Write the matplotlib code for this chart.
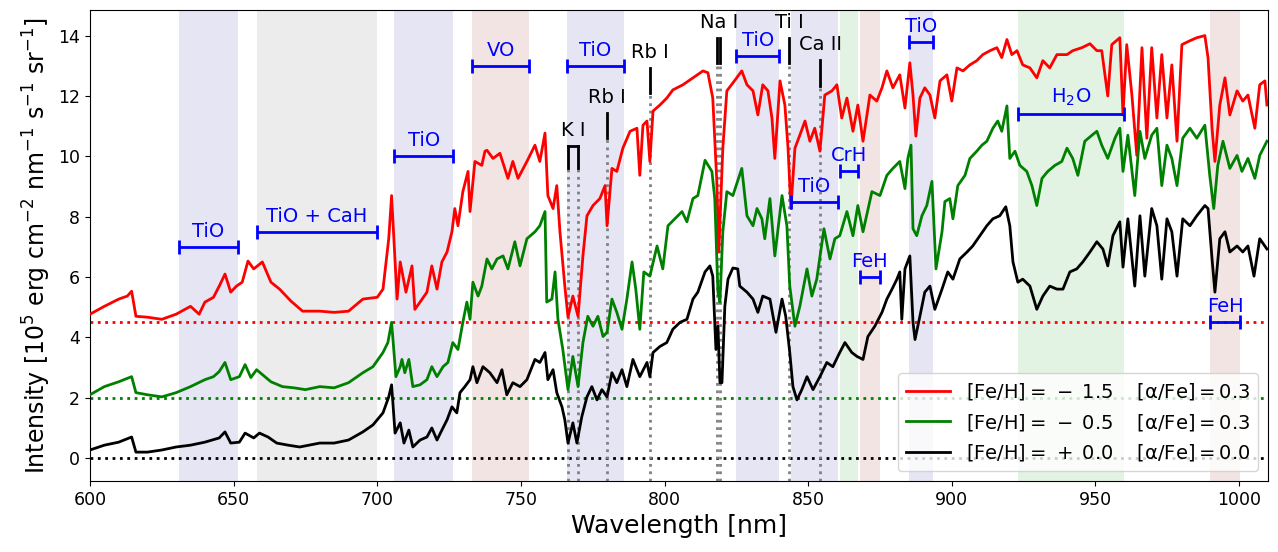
import matplotlib
matplotlib.use("Agg")
import matplotlib.pyplot as plt

# spectra (intensity in 1e5 erg cm-2 nm-1 s-1 sr-1)
wl_m15 = [600, 605, 610, 613, 614.5, 616, 620, 625, 630, 635, 638, 640, 643, 645, 647, 649, 651, 653, 655, 657,
          660, 663, 666, 670, 674, 680, 685, 690, 695, 700, 702, 704, 705, 706.9, 708, 710, 712.1, 713.1, 714.9, 717.3,
          719.0, 720.8, 722.5, 724.3, 726.0, 727.0, 728.1, 729.8, 731.6, 732.3, 734.0, 736.4, 737.5, 738.2, 740.3, 742.7,
          745.5, 747.2, 749.0, 752.1, 754.9, 756.6, 758.4, 759.4, 761.2, 762.5, 763.6, 765.3, 766.4, 768.1, 769.9, 771.6,
          773.0, 775.1, 777.5, 779.3, 780.0, 781.7, 783.4, 785.5, 788.0, 790.4, 791.4, 792.5, 793.9, 794.9, 796.0, 798.4,
          800.8, 802.9, 806.4, 809.9, 813.4, 815.1, 816.8, 818.2, 818.9, 820.3, 821.7, 823.8, 826.9, 828.7, 830.8, 832.5,
          834.2, 836.0, 837.4, 838.4, 840.2, 841.9, 843.0, 844.0, 845.4, 847.1, 848.9, 850.6, 852.3, 854.1, 855.8, 858.3,
          860.0, 861.7, 863.5, 865.6, 867.3, 869.1, 871.5, 873.9, 875.7, 877.4, 879.5, 881.9, 883.7, 885.4, 886.5, 887.5,
          888.9, 890.6, 892.4, 894.1, 895.9, 898.3, 900.0, 901.8, 903.9, 906.3, 908.7, 910.8, 913.3, 915.7, 917.4, 919.2,
          920.9, 922.7, 924.7, 927.2, 929.6, 931.7, 934.1, 936.6, 940.1, 942.1, 945.3, 948.1, 950.5, 952.2, 954.3, 955.7,
          958.5, 959.6, 960.9, 962.7, 964.4, 966.2, 967.9, 969.6, 971.4, 973.1, 974.9, 976.6, 978.4, 980.1, 982.9, 985.3,
          988.1, 989.2, 990.6, 991.6, 993.3, 995.1, 996.8, 999.3, 1001.3, 1003.1, 1005.5, 1007.2, 1009.0, 1009.7]
fl_m15 = [0.27, 0.53, 0.77, 0.87, 1.03, 0.2, 0.17, 0.1, 0.27, 0.53, 0.27, 0.67, 0.83, 1.2, 1.6, 1.0, 1.2, 1.33, 2.03, 1.77,
          2.0, 1.33, 1.1, 0.7, 0.37, 0.37, 0.33, 0.37, 0.77, 0.83, 1.1, 2.77, 4.2, 0.77, 2.0, 1.0, 1.87, 0.43, 0.67, 1.0,
          1.87, 1.1, 2.0, 2.33, 3.0, 3.77, 3.2, 4.33, 5.0, 3.67, 5.33, 5.2, 5.67, 5.7, 5.43, 5.6,
          4.77, 5.33, 4.77, 5.33, 5.87, 5.33, 6.27, 4.2, 3.77, 4.53, 3.0, 1.2, 0.17, 0.87, 0.2, 2.2,
          3.53, 3.87, 4.1, 4.53, 3.2, 5.1, 5.0, 5.77, 6.33, 6.43, 4.87, 6.53, 6.67, 5.33, 7.0, 7.2,
          7.43, 7.7, 7.87, 8.1, 8.33, 8.27, 7.43, 4.67, 2.33, 5.77, 7.67, 7.93, 8.33, 7.87, 7.67, 6.87,
          7.87, 7.67, 6.77, 5.43, 8.0, 7.2, 5.77, 3.77, 5.77, 6.2, 6.67, 6.0, 6.43, 5.67, 7.53, 7.67,
          7.87, 6.77, 7.43, 6.33, 7.2, 6.0, 7.53, 7.33, 7.77, 8.33, 7.77, 8.2, 7.1, 8.6, 7.53, 6.17,
          7.43, 7.77, 7.53, 6.77, 8.0, 8.2, 7.33, 8.43, 8.33, 8.53, 8.67, 8.87, 9.0, 9.1, 8.77, 9.37,
          8.87, 9.0, 8.53, 8.43, 8.1, 8.67, 8.43, 8.87, 8.87, 9.0, 9.1, 9.23, 9.0, 9.0, 7.5, 9.2,
          9.43, 6.87, 9.2, 7.53, 5.53, 9.1, 6.1, 9.1, 6.77, 8.87, 6.77, 8.53, 6.0, 9.2, 9.33, 9.43,
          9.5, 8.77, 6.43, 5.33, 7.2, 8.1, 6.87, 7.67, 7.33, 7.53, 6.43, 7.87, 8.0, 7.2]

wl_m05 = [600, 605, 610, 614.5, 616, 620, 625, 630, 635, 640, 643, 645, 647, 649, 652, 654, 656, 658, 660, 663,
          667, 671, 675, 680, 685, 690, 695, 698.5, 702, 703.7, 705, 706.5, 708, 708.6, 709.6, 711, 712.4, 714.9, 717.3, 719.0,
          720.8, 722.9, 724.6, 726.3, 728.1, 729.8, 731.2, 732.3, 733.3, 735.1, 736.4, 738.2, 739.9, 741.7, 743.8, 745.5,
          747.9, 749.7, 752.1, 754.9, 756.6, 758.4, 759.0, 760.8, 761.9, 762.9, 764.6, 766.4, 768.1, 769.9, 771.6, 773.3,
          775.1, 776.8, 778.6, 780.0, 781.7, 783.4, 785.2, 786.9, 788.7, 790.0, 791.4, 792.8, 794.9, 797.4, 799.4, 801.2,
          803.6, 806.1, 807.8, 809.9, 811.6, 814.1, 816.5, 817.5, 818.6, 819.3, 820.3, 821.7, 823.8, 826.9, 828.7, 830.8,
          832.2, 833.9, 834.9, 836.7, 838.4, 840.9, 842.6, 843.6, 845.4, 847.1, 849.6, 851.3, 853.0, 855.5, 857.6, 859.3,
          861.0, 863.5, 865.6, 867.3, 869.1, 872.2, 875.0, 877.4, 879.5, 881.9, 883.7, 884.7, 885.8, 886.5, 887.8, 889.6,
          891.3, 893.1, 894.5, 896.6, 897.6, 899.3, 900.4, 902.1, 904.6, 906.3, 908.7, 910.5, 912.2, 914.3, 916.0, 917.4,
          919.2, 920.2, 922.0, 923.7, 926.1, 927.9, 929.6, 931.4, 933.4, 935.9, 938.3, 940.1, 942.1, 943.9, 946.3, 948.8,
          950.5, 952.2, 954.3, 956.8, 958.5, 959.6, 961.3, 963.7, 965.5, 967.2, 969.6, 971.4, 973.1, 974.9, 976.6, 978.4,
          980.4, 982.9, 985.3, 988.1, 989.8, 991.2, 992.6, 994.4, 996.8, 999.3, 1001.0, 1003.1, 1005.5, 1007.2, 1009.7]
fl_m05 = [0.1, 0.37, 0.53, 0.7, 0.17, 0.1, 0.03, 0.17, 0.37, 0.6, 0.7, 0.87, 1.17, 0.6, 0.7, 1.1, 0.67, 0.93, 0.77, 0.53,
          0.37, 0.33, 0.27, 0.37, 0.33, 0.5, 0.83, 1.03, 1.5, 1.83, 2.5, 0.7, 1.03, 1.27, 0.83, 1.27, 0.37, 0.43, 0.6, 1.03,
          0.7, 1.03, 1.17, 1.83, 1.6, 2.5, 3.17, 2.6, 3.83, 3.37, 3.7, 4.6, 4.27, 4.6, 4.7, 4.27,
          5.17, 4.37, 5.27, 5.5, 5.7, 6.17, 3.17, 3.27, 4.17, 2.6, 1.6, 0.27, 1.37, 0.37, 1.83, 2.7,
          2.37, 2.7, 2.03, 2.17, 3.27, 2.83, 2.27, 3.27, 4.5, 3.6, 2.27, 4.17, 4.03, 5.03, 4.27, 5.7,
          5.93, 6.17, 5.83, 6.6, 6.7, 7.87, 7.5, 6.6, 3.5, 3.17, 5.5, 6.83, 6.7, 7.6, 6.03, 5.7,
          6.27, 5.93, 5.27, 6.6, 4.7, 6.7, 5.7, 3.7, 2.37, 3.03, 4.27, 3.37, 3.93, 5.6, 4.6, 5.27,
          5.37, 6.17, 5.37, 6.37, 5.5, 6.83, 6.7, 7.37, 7.6, 7.83, 6.93, 7.93, 8.37, 5.6, 5.37, 6.03,
          6.37, 7.17, 4.27, 5.5, 6.5, 6.6, 5.93, 7.03, 7.37, 7.93, 8.17, 8.37, 8.5, 8.93, 9.17, 8.83,
          9.67, 7.93, 8.17, 7.7, 7.5, 7.03, 6.37, 7.27, 7.5, 7.7, 7.83, 8.27, 7.93, 7.37, 8.5, 8.7,
          8.83, 8.37, 7.93, 8.6, 8.93, 7.5, 8.7, 6.7, 8.83, 7.93, 8.7, 8.93, 7.03, 8.37, 7.93, 7.03,
          8.6, 8.93, 8.6, 9.03, 7.37, 6.27, 7.7, 8.5, 7.6, 8.03, 7.5, 7.93, 7.27, 8.03, 8.5]

wl_p00 = [600, 605, 610, 614.5, 616, 620, 625, 630, 635, 640, 645, 647, 649, 652, 654, 657, 659, 662, 665, 669,
          673, 680, 685, 690, 695, 698.5, 702, 704, 705, 706.2, 708, 709.3, 711, 712.4, 714.9, 717.3, 719.0, 720.8, 722.5, 724.3,
          726.0, 727.7, 728.8, 730.5, 732.3, 733.3, 734.7, 736.8, 739.2, 741.7, 743.4, 745.1, 747.2, 749.7, 752.1, 754.9,
          756.6, 758.4, 759.4, 761.2, 762.5, 764.3, 765.3, 766.4, 768.1, 769.5, 771.2, 773.0, 774.7, 776.5, 778.2, 780.0,
          781.7, 783.4, 785.2, 786.9, 789.0, 791.4, 793.9, 794.9, 796.0, 798.4, 800.8, 802.9, 805.4, 807.8, 809.9, 811.6,
          814.1, 815.8, 816.8, 817.9, 818.6, 819.3, 820.0, 821.0, 822.1, 823.8, 825.5, 826.2, 828.7, 830.8, 832.5, 834.2,
          836.7, 838.8, 840.9, 842.2, 843.6, 844.7, 846.1, 847.8, 849.6, 851.7, 854.1, 856.5, 858.6, 861.0, 862.8, 865.2,
          867.0, 869.1, 870.8, 873.2, 875.7, 877.4, 879.2, 880.9, 881.9, 882.6, 883.7, 885.4, 886.5, 887.2, 888.9, 890.6,
          892.4, 894.1, 896.6, 898.6, 900.4, 902.8, 905.3, 907.3, 909.8, 912.2, 914.3, 916.7, 918.8, 920.2, 921.3, 923.0,
          924.7, 927.2, 929.6, 931.7, 934.1, 936.6, 938.7, 941.1, 943.5, 945.6, 948.1, 950.5, 952.6, 954.3, 956.1, 958.5,
          959.6, 961.3, 963.7, 965.5, 967.2, 969.6, 971.4, 973.1, 974.9, 976.6, 978.4, 980.4, 982.9, 985.3, 988.1, 989.2,
          990.6, 991.6, 993.3, 995.1, 996.8, 999.3, 1001.3, 1003.1, 1005.2, 1007.2, 1009.7]
fl_p00 = [0.27, 0.43, 0.53, 0.7, 0.2, 0.2, 0.27, 0.37, 0.43, 0.53, 0.67, 0.87, 0.5, 0.53, 0.83, 0.67, 0.83, 0.7, 0.5, 0.43,
          0.37, 0.5, 0.5, 0.6, 0.87, 1.1, 1.5, 2.03, 2.43, 0.83, 1.17, 0.5, 0.93, 0.37, 0.6, 0.7, 1.0, 0.6, 0.93, 1.27,
          1.7, 1.5, 2.17, 2.37, 2.6, 3.03, 2.5, 3.03, 2.83, 2.5, 2.93, 2.1, 2.5, 2.37, 2.6, 3.27,
          3.17, 3.5, 2.6, 2.93, 2.17, 1.7, 1.27, 0.5, 1.17, 0.5, 1.37, 2.03, 2.37, 1.93, 2.27, 2.03,
          2.83, 2.5, 2.93, 2.37, 3.27, 2.7, 3.17, 2.7, 3.5, 3.7, 3.83, 4.27, 4.5, 4.6, 5.27, 5.5,
          6.17, 6.37, 6.03, 3.6, 4.37, 2.5, 2.5, 5.03, 5.93, 6.3, 6.27, 5.7, 5.5, 5.27, 4.83, 5.37,
          5.27, 4.17, 5.27, 4.7, 3.5, 2.37, 1.93, 2.27, 2.7, 2.27, 2.7, 3.17, 3.03, 3.5, 3.83, 3.5,
          3.37, 3.27, 4.03, 4.37, 4.83, 5.27, 5.6, 5.93, 6.17, 4.6, 6.27, 6.7, 4.5, 3.93, 4.7, 5.5,
          5.7, 4.93, 5.6, 6.17, 5.93, 6.6, 6.83, 7.03, 7.37, 7.7, 7.93, 8.03, 8.33, 7.7, 6.5, 5.83,
          5.93, 5.7, 4.93, 5.37, 5.7, 5.6, 5.6, 6.17, 6.27, 6.5, 6.83, 7.17, 6.93, 6.37, 7.37, 7.83,
          6.33, 7.93, 5.7, 8.03, 6.03, 8.27, 7.7, 5.93, 7.93, 7.5, 6.03, 7.93, 7.7, 8.03, 8.37, 8.27,
          6.6, 5.5, 7.27, 7.5, 6.83, 7.03, 6.83, 7.03, 6.03, 7.27, 6.93]

offsets = [4.5, 2.0, 0.0]
colors = ["red", "green", "black"]
labels = [r"$[\mathrm{Fe/H}] = \,-\;1.5\quad\;[\mathrm{α/Fe}] = 0.3$",
          r"$[\mathrm{Fe/H}] = \,-\;0.5\quad\;[\mathrm{α/Fe}] = 0.3$",
          r"$[\mathrm{Fe/H}] = \,+\;0.0\quad\;[\mathrm{α/Fe}] = 0.0$"]

# molecular bands: (start, end, shade colour, label height, label)
band_lo = [631, 658, 706, 733, 766, 825, 844, 861, 868, 885, 923, 990]
band_hi = [651.5, 700, 726.5, 753, 786, 840, 860.5, 867.5, 875, 893.5, 960, 1000.5]
band_shade = ["#e5e5f4", "#ececec", "#e5e5f4", "#f3e4e4", "#e5e5f4", "#e5e5f4", "#e5e5f4",
              "#e3f3e3", "#f3e4e4", "#e5e5f4", "#e3f3e3", "#f3e4e4"]
band_y = [7.0, 7.5, 10.0, 13.0, 13.0, 13.33, 8.5, 9.5, 6.0, 13.8, 11.4, 4.5]
band_names = ["TiO", "TiO + CaH", "TiO", "VO", "TiO", "TiO", "TiO", "CrH", "FeH", "TiO", r"H$_2$O", "FeH"]

# atomic lines: (name, wavelengths, marker bottom, marker top)
line_names = ["K I", "Rb I", "Rb I", "Na I", "Ti I", "Ca II"]
line_wl = [[766.5, 769.9], [780.0], [794.8], [818.3, 819.4], [843.3], [854.2]]
line_bot = [9.6, 10.6, 12.1, 13.1, 13.1, 12.33]
line_top = [10.33, 11.43, 12.93, 13.93, 13.93, 13.2]

fig = plt.figure(figsize=(12.78, 5.52), dpi=100)
ax = fig.add_axes([0.0704, 0.129, 0.9216, 0.853])
ymin, ymax = -0.75, 14.85

for lo, hi, c in zip(band_lo, band_hi, band_shade):
    ax.axvspan(lo, hi, color=c, lw=0, zorder=0)

for off, c in zip(offsets, colors):
    ax.axhline(off, color=c, ls=":", lw=2, zorder=1)

for name, wls, b, t in zip(line_names, line_wl, line_bot, line_top):
    for w in wls:
        ax.plot([w, w], [ymin, b], color="gray", ls=":", lw=2, zorder=1)
        ax.plot([w, w], [b, t], color="black", lw=2, zorder=4)
    if name == "K I":
        ax.plot([wls[0], wls[1]], [t, t], color="black", lw=2, zorder=4)
    ax.text(sum(wls) / len(wls), t + 0.2, name, ha="center", va="bottom", fontsize=14, zorder=5)

wls_all = [wl_m15, wl_m05, wl_p00]
fls_all = [fl_m15, fl_m05, fl_p00]
for w, f, off, c, lab in zip(wls_all, fls_all, offsets, colors, labels):
    ax.plot(w, [v + off for v in f], color=c, lw=2, label=lab, zorder=3)

for lo, hi, y, name in zip(band_lo, band_hi, band_y, band_names):
    ax.errorbar((lo + hi) / 2, y, xerr=(hi - lo) / 2, fmt="none", ecolor="blue",
                elinewidth=2, capsize=5, capthick=2, zorder=5)
    ax.text((lo + hi) / 2, y + 0.2, name, color="blue", ha="center", va="bottom",
            fontsize=14, zorder=5)

ax.set_xlim(600, 1010)
ax.set_ylim(ymin, ymax)
ax.set_yticks([0, 2, 4, 6, 8, 10, 12, 14])
ax.tick_params(labelsize=12.5)
ax.set_xlabel("Wavelength [nm]", fontsize=18)
ax.set_ylabel(r"Intensity [$10^5$ erg cm$^{-2}$ nm$^{-1}$ s$^{-1}$ sr$^{-1}$]", fontsize=17)
ax.legend(loc="lower right", fontsize=14, handlelength=2.3)

fig.savefig("out.png", dpi=100)
